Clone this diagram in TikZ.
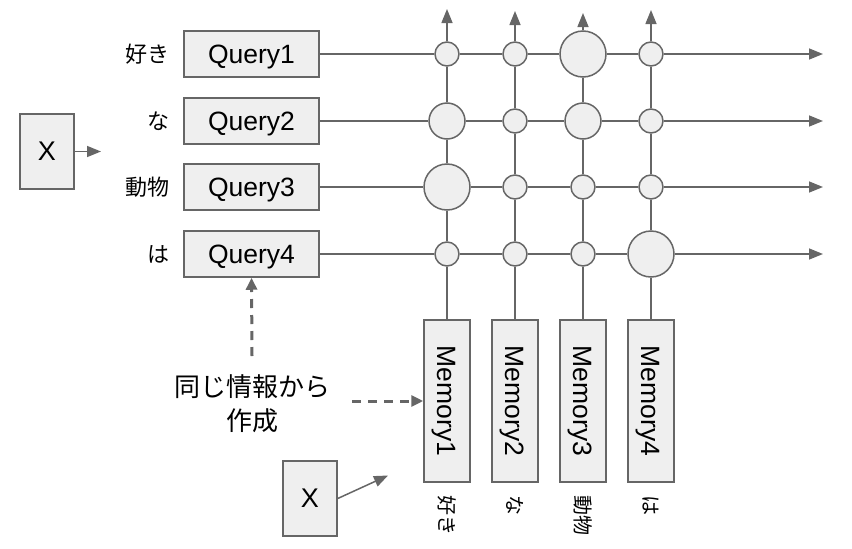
\documentclass[tikz,border=0pt]{standalone}
\usepackage{fontspec}
\setmainfont{Liberation Sans}
\newfontfamily\jp{Noto Sans CJK JP}
\usetikzlibrary{arrows.meta}
\definecolor{ln}{HTML}{666666}
\definecolor{fl}{HTML}{EFEFEF}
\tikzset{
  box/.style={draw=ln, fill=fl, line width=1.5pt, inner sep=0pt, text=black},
  qbox/.style={box, minimum width=135pt, minimum height=46pt, text depth=0pt, font=\fontsize{26.5}{30}\selectfont},
  mbox/.style={box, rotate=-90, minimum width=162pt, minimum height=46pt, text depth=0pt, font=\fontsize{26.5}{30}\selectfont},
  xbox/.style={box, minimum width=54pt, minimum height=75pt, font=\fontsize{27}{30}\selectfont},
  dot/.style={circle, draw=ln, fill=fl, line width=1.5pt, inner sep=0pt, minimum size=#1},
  wire/.style={draw=ln, line width=1.5pt},
  arr/.style={wire, -{Triangle[length=14pt,width=11pt]}},
  dsh/.style={draw=ln, line width=3pt, dash pattern=on 9pt off 7pt, -{Triangle[length=12pt,width=11pt]}},
  lbl/.style={font=\jp\fontsize{22}{26}\selectfont, inner sep=0pt},
  blbl/.style={font=\jp\fontsize{20}{24}\selectfont, inner sep=0pt, rotate=-90, anchor=west},
}
\begin{document}
\begin{tikzpicture}[x=1pt,y=-1pt]
\useasboundingbox (0,0) rectangle (852,549);

% queries
\node[qbox] (q1) at (251.5,54) {Query1};
\node[qbox] (q2) at (251.5,121) {Query2};
\node[qbox] (q3) at (251.5,187) {Query3};
\node[qbox] (q4) at (251.5,254) {Query4};

\node[lbl, anchor=east] (l1) at (170,54) {好き};
\node[lbl, anchor=east] (l2) at (170,121) {な};
\node[lbl, anchor=east] (l3) at (170,187) {動物};
\node[lbl, anchor=east] (l4) at (170,254) {は};

% left X
\node[xbox] (xa) at (47,151.5) {X};
\coordinate (xae) at (101,151.5);
\draw[arr] (xa.east) -- (xae);

% memories
\node[mbox] (m1) at (447,401) {Memory1};
\node[mbox] (m2) at (515,401) {Memory2};
\node[mbox] (m3) at (583,401) {Memory3};
\node[mbox] (m4) at (651,401) {Memory4};

\node[blbl] (b1) at (447,495) {好き};
\node[blbl] (b2) at (515,495) {な};
\node[blbl] (b3) at (583,495) {動物};
\node[blbl] (b4) at (651,495) {は};

% circles
\node[dot=24pt] (c11) at (447,54) {};
\node[dot=24pt] (c12) at (515,54) {};
\node[dot=46pt] (c13) at (583,54) {};
\node[dot=24pt] (c14) at (651,54) {};
\node[dot=36pt] (c21) at (447,121) {};
\node[dot=24pt] (c22) at (515,121) {};
\node[dot=36pt] (c23) at (583,121) {};
\node[dot=24pt] (c24) at (651,121) {};
\node[dot=46pt] (c31) at (447,187) {};
\node[dot=24pt] (c32) at (515,187) {};
\node[dot=24pt] (c33) at (583,187) {};
\node[dot=24pt] (c34) at (651,187) {};
\node[dot=24pt] (c41) at (447,254) {};
\node[dot=24pt] (c42) at (515,254) {};
\node[dot=24pt] (c43) at (583,254) {};
\node[dot=46pt] (c44) at (651,254) {};

% end points
\coordinate (e1) at (823,54);
\coordinate (e2) at (823,121);
\coordinate (e3) at (823,187);
\coordinate (e4) at (823,254);
\coordinate (t1) at (447,9);
\coordinate (t2) at (515,11);
\coordinate (t3) at (583,13);
\coordinate (t4) at (651,10);

% horizontal wires
\foreach \r in {1,2,3,4}{
  \draw[wire] (q\r.east) -- (c\r1);
  \draw[wire] (c\r1) -- (c\r2);
  \draw[wire] (c\r2) -- (c\r3);
  \draw[wire] (c\r3) -- (c\r4);
  \draw[arr] (c\r4) -- (e\r);
}
% vertical wires
\foreach \c in {1,2,3,4}{
  \draw[wire] (m\c.west) -- (c4\c);
  \draw[wire] (c4\c) -- (c3\c);
  \draw[wire] (c3\c) -- (c2\c);
  \draw[wire] (c2\c) -- (c1\c);
  \draw[arr] (c1\c) -- (t\c);
}

% note
\node[align=center, font=\jp\fontsize{26}{34}\selectfont, inner sep=0pt] (note) at (252,404) {同じ情報から\\作成};
\coordinate (n1) at (252,356);
\coordinate (n2) at (352,401);
\draw[dsh] (n1) -- (q4.south);
\draw[dsh] (n2) -- (m1.south);

% bottom X
\node[xbox] (xb) at (310,498.5) {X};
\coordinate (xbe) at (388,475.5);
\draw[arr] (xb.east) -- (xbe);
\end{tikzpicture}
\end{document}
